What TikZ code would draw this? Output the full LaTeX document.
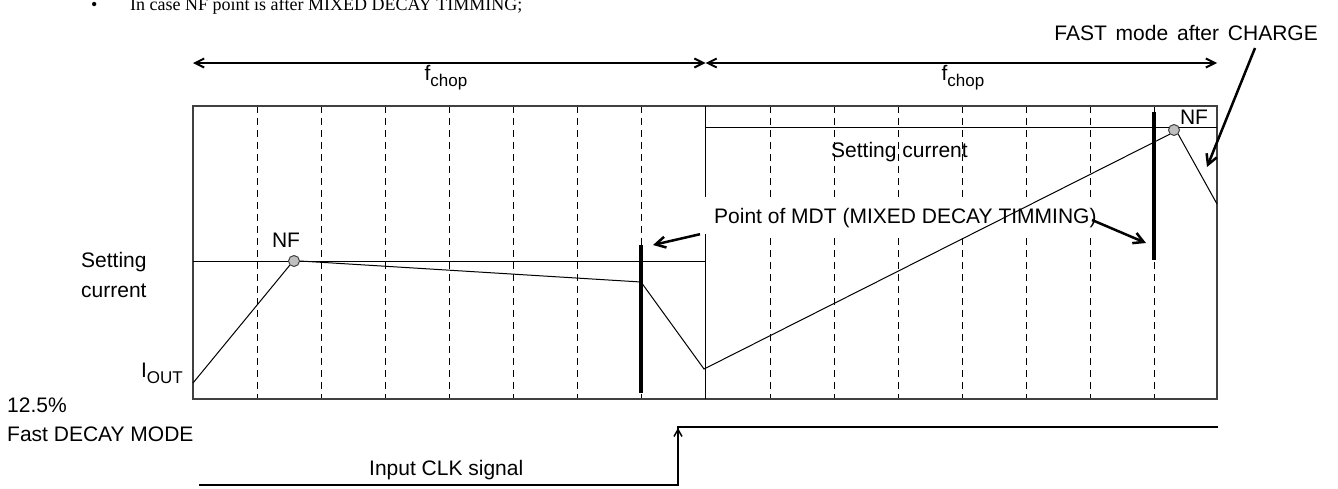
\documentclass[tikz,border=0pt]{standalone}
\usepackage{fontspec}
\setmainfont{Liberation Sans}
\newfontfamily\bodyserif{Liberation Serif}
\usetikzlibrary{arrows.meta}
\newcommand{\subtxt}[1]{\raisebox{-6pt}{\fontsize{17}{17}\selectfont #1}}
\begin{document}
\begin{tikzpicture}[x=1pt,y=-1pt,
  font=\fontsize{21}{25}\selectfont,
  lbl/.style={inner sep=0pt},
  thinline/.style={line width=1pt},
  gridline/.style={line width=1pt, dash pattern=on 7pt off 5pt},
  frame/.style={line width=1.5pt, draw=black!75},
  mdtbar/.style={line width=3.5pt},
  callout/.style={line width=2.5pt, -{Straight Barb[length=10pt,width=11pt]}},
  span/.style={line width=2pt, {Straight Barb[length=9pt,width=9pt]}-{Straight Barb[length=9pt,width=9pt]}},
  nfdot/.style={circle, draw=black!75, fill=black!25, minimum size=11pt, inner sep=0pt, line width=1pt},
  clk/.style={line width=2.5pt},
]
\useasboundingbox (0,0) rectangle (1338,488);

% top bullet line (cut off by the page edge)
\node[lbl, anchor=base west, font=\bodyserif\fontsize{18}{22}\selectfont] (bullet) at (91,10) {\makebox[39pt][l]{\textbullet}In case NF point is after MIXED DECAY TIMMING;};

% f_chop spans
\coordinate (spL) at (193,63);
\coordinate (spM) at (705.5,63);
\coordinate (spR) at (1217,63);
\draw[span] (spL) -- (spM);
\draw[span] (spM) -- (spR);
\node[lbl, anchor=base] (fchopL) at (446,80) {f\subtxt{chop}};
\node[lbl, anchor=base] (fchopR) at (963,80) {f\subtxt{chop}};

% dashed clock grid
\foreach \gx in {257,321,385,449,513,577,641,770,834,898,962,1026,1090,1154}
  \draw[gridline] (\gx,106) -- (\gx,399);

% frame and reference lines
\draw[frame] (193,106) rectangle (1217,399);
\draw[thinline] (705,106) -- (705,399);
\draw[thinline] (193,261) -- (705,261);
\draw[thinline] (705,127) -- (1217,127);

% label box for MDT
\node[lbl, fill=white, inner xsep=14pt, text height=26pt, text depth=11pt, anchor=base west] (mdtlbl) at (700,223) {Point of MDT (MIXED DECAY TIMMING)};

% MDT bars
\draw[mdtbar] (641,245) -- (641,393);
\draw[mdtbar] (1154,112) -- (1154,260);

% current waveform
\coordinate (p0) at (193,383);
\node[nfdot] (nf1) at (294,261) {};
\coordinate (p2) at (641,282);
\coordinate (p3) at (704,369);
\node[nfdot] (nf2) at (1174,130) {};
\coordinate (p5) at (1217,204);
\draw[thinline] (p0) -- (nf1.south west);
\draw[thinline] (nf1.east) -- (p2) -- (p3) -- (nf2.south west);
\draw[thinline] (nf2.south east) -- (p5);

% texts
\node[lbl, anchor=base] (nfL) at (286,247) {NF};
\node[lbl, anchor=base] (nfR) at (1194,124) {NF};
\node[lbl, anchor=base west] (setR) at (831,157) {Setting current};
\node[lbl, anchor=base west] (setL1) at (81,267) {Setting};
\node[lbl, anchor=base west] (setL2) at (81,297) {current};
\node[lbl, anchor=base east] (iout) at (183,377) {I\subtxt{OUT}};
\node[lbl, anchor=base west] (pct) at (7,412) {12.5\%};
\node[lbl, anchor=base west] (fdm) at (7,441) {Fast DECAY MODE};
\node[lbl, anchor=base west] (clklbl) at (369,475) {Input CLK signal};
\node[lbl, anchor=base east] (fast) at (1318,40) {FAST\hspace{3pt} mode\hspace{3pt} after\hspace{3pt} CHARGE};

% callout arrows
\coordinate (tipA) at (653,245);
\coordinate (startB) at (1092,220);
\coordinate (tipB) at (1146,243);
\coordinate (startC) at (1255,48);
\coordinate (tipC) at (1207,167);
\draw[callout] (mdtlbl.south west) -- (tipA);
\draw[callout] (startB) -- (tipB);
\draw[callout] (startC) -- (tipC);

% input clock signal
\coordinate (c0) at (199,485);
\coordinate (c1) at (678,485);
\coordinate (c2) at (678,427);
\coordinate (c3) at (1218,427);
\draw[clk] (c0) -- (c1) -- (c2) -- (c3);
\draw[line width=1.5pt, -{Straight Barb[length=7pt,width=8pt]}] (678,445) -- (678,428);
\end{tikzpicture}
\end{document}
